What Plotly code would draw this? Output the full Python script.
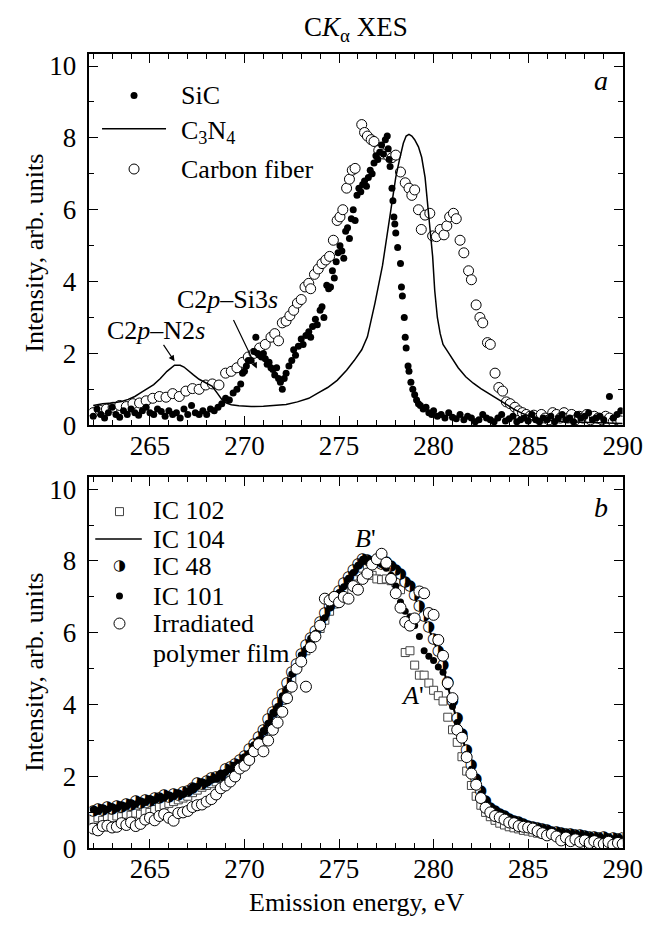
import plotly.graph_objects as go

# ---------------- data: panel a ----------------
SIC_X = [262.0, 262.2, 262.4, 262.6, 262.8, 263.0, 263.2, 263.4, 263.6, 263.8,
         264.0, 264.2, 264.4, 264.6, 264.8, 265.0, 265.2, 265.4, 265.6, 265.8,
         266.0, 266.2, 266.4, 266.6, 266.8, 267.0, 267.2, 267.4, 267.6, 267.8,
         268.0, 268.2, 268.4, 268.6, 268.8, 269.0, 269.2, 269.4, 269.6, 269.8,
         269.9, 270.0, 270.1, 270.2, 270.35, 270.5, 270.6, 270.7, 270.8, 270.9,
         271.0, 271.1, 271.2, 271.3, 271.4, 271.5, 271.6, 271.7, 271.8, 271.9,
         272.0, 272.1, 272.2, 272.35, 272.5, 272.6, 272.7, 272.85, 273.0, 273.1,
         273.25, 273.4, 273.5, 273.6, 273.75, 273.85, 274.0, 274.1, 274.2, 274.35,
         274.45, 274.55, 274.65, 274.75, 274.85, 274.95, 275.05, 275.15, 275.25, 275.35,
         275.45, 275.55, 275.65, 275.75, 275.85, 275.95, 276.05, 276.15, 276.25, 276.35,
         276.45, 276.55, 276.65, 276.75, 276.85, 276.95, 277.05, 277.15, 277.25, 277.35,
         277.45, 277.55, 277.6, 277.65, 277.7, 277.8, 277.85, 277.9, 277.95, 278.0,
         278.1, 278.25, 278.3, 278.35, 278.45, 278.5, 278.55, 278.65, 278.7, 278.8,
         278.9, 279.0, 279.1, 279.2, 279.3, 279.45, 279.6, 279.75, 279.9, 280.0,
         280.2, 280.4, 280.6, 280.8, 281.0, 281.2, 281.4, 281.6, 281.8, 282.0,
         282.2, 282.4, 282.6, 282.8, 283.0, 283.2, 283.4, 283.6, 283.8, 284.0,
         284.2, 284.4, 284.6, 284.8, 285.0, 285.2, 285.4, 285.6, 285.8, 286.0,
         286.2, 286.4, 286.6, 286.8, 287.0, 287.2, 287.4, 287.6, 287.8, 288.0,
         288.2, 288.4, 288.6, 288.8, 289.0, 289.3, 289.5, 289.7, 289.9]
SIC_Y = [0.25, 0.45, 0.30, 0.20, 0.35, 0.50, 0.30, 0.22, 0.40, 0.30,
         0.45, 0.35, 0.28, 0.40, 0.50, 0.35, 0.30, 0.45, 0.38, 0.25,
         0.40, 0.30, 0.35, 0.20, 0.45, 0.30, 0.55, 0.35, 0.30, 0.40,
         0.30, 0.45, 0.40, 0.50, 0.60, 0.75, 0.70, 0.90, 1.00, 1.15,
         1.45, 1.50, 1.65, 1.80, 1.80, 2.05, 2.45, 2.00, 1.95, 1.90,
         2.00, 1.85, 1.70, 1.75, 1.60, 1.55, 1.40, 1.60, 1.30, 1.20,
         1.00, 1.30, 1.45, 1.65, 1.80, 2.10, 1.95, 2.20, 2.40, 2.25,
         2.50, 2.60, 2.45, 2.75, 2.95, 2.80, 3.20, 3.30, 3.00, 3.90,
         3.80, 3.85, 4.30, 4.10, 4.55, 4.80, 5.00, 4.85, 4.65, 5.40,
         5.50, 5.20, 5.75, 6.00, 5.70, 6.40, 6.60, 6.50, 6.70, 6.80,
         6.65, 6.90, 7.10, 7.00, 7.30, 7.50, 7.40, 7.60, 7.80, 7.55,
         7.95, 8.05, 7.70, 7.40, 7.20, 6.60, 6.25, 5.80, 5.60, 5.35,
         4.95, 4.50, 3.85, 3.60, 3.00, 2.45, 2.15, 1.65, 1.50, 1.20,
         1.00, 0.85, 0.70, 0.60, 0.55, 0.45, 0.50, 0.35, 0.30, 0.40,
         0.25, 0.30, 0.20, 0.35, 0.22, 0.18, 0.30, 0.15, 0.25, 0.20,
         0.10, 0.15, 0.30, 0.20, 0.15, 0.10, 0.20, 0.30, 0.12, 0.18,
         0.25, 0.10, 0.15, 0.20, 0.12, 0.30, 0.15, 0.10, 0.20, 0.15,
         0.25, 0.10, 0.20, 0.30, 0.15, 0.20, 0.10, 0.30, 0.20, 0.25,
         0.35, 0.15, 0.20, 0.25, 0.15, 0.80, 0.20, 0.30, 0.40]

CF_X = [262.0, 262.35, 262.7, 263.05, 263.4, 263.75, 264.1, 264.45, 264.8, 265.15,
        265.5, 265.85, 266.2, 266.55, 266.9, 267.25, 267.6, 267.95, 268.3, 268.65,
        269.0, 269.3, 269.6, 269.9, 270.2, 270.5, 270.8, 271.1, 271.4, 271.6,
        271.8, 272.0, 272.2, 272.4, 272.6, 272.8, 273.0, 273.2, 273.4, 273.5,
        273.7, 273.9, 274.1, 274.3, 274.5, 274.7, 274.9, 275.05, 275.2, 275.4,
        275.55, 275.7, 275.85, 276.2, 276.35, 276.5, 276.7, 276.85, 277.1, 277.35,
        277.6, 277.8, 278.0, 278.25, 278.5, 278.7, 278.85, 279.0, 279.2, 279.35,
        279.55, 279.8, 279.95, 280.15, 280.35, 280.55, 280.7, 280.85, 281.05, 281.2,
        281.4, 281.6, 281.85, 282.0, 282.25, 282.45, 282.6, 282.85, 283.0, 283.25,
        283.45, 283.65, 283.85, 284.05, 284.3, 284.5, 284.7, 284.9, 285.1, 285.3,
        285.5, 285.7, 285.9, 286.1, 286.3, 286.5, 286.7, 286.9, 287.1, 287.3,
        287.5, 287.7, 287.9, 288.1, 288.3, 288.5, 288.7, 288.9, 289.1, 289.3,
        289.5, 289.7, 289.9]
CF_Y = [0.35, 0.42, 0.45, 0.50, 0.55, 0.52, 0.60, 0.62, 0.68, 0.75,
        0.80, 0.78, 0.88, 0.80, 0.95, 1.02, 1.00, 1.12, 1.15, 1.12,
        1.45, 1.50, 1.60, 1.75, 1.90, 2.00, 2.15, 2.25, 2.45, 2.55,
        2.35, 2.85, 2.90, 3.05, 3.20, 3.40, 3.50, 3.85, 3.95, 3.80,
        4.20, 4.35, 4.50, 4.60, 4.70, 5.15, 5.70, 5.80, 6.00, 6.60,
        6.85, 7.10, 7.15, 8.37, 8.15, 8.05, 7.95, 7.90, 7.65, 7.55,
        7.50, 7.45, 7.52, 7.05, 6.75, 6.60, 6.40, 6.55, 6.00, 5.45,
        5.85, 5.90, 5.27, 5.25, 5.45, 5.30, 5.55, 5.80, 5.90, 5.75,
        5.15, 4.80, 4.30, 4.05, 3.35, 3.00, 2.85, 2.30, 2.25, 1.45,
        1.05, 0.95, 0.65, 0.60, 0.50, 0.40, 0.35, 0.30, 0.25, 0.28,
        0.20, 0.30, 0.20, 0.15, 0.35, 0.30, 0.20, 0.35, 0.20, 0.30,
        0.15, 0.25, 0.20, 0.30, 0.15, 0.25, 0.20, 0.15, 0.25, 0.20,
        0.10, 0.15, 0.12]

C3N4_X = [262.0, 262.5, 263.0, 263.5, 263.85, 264.2, 264.5, 264.85, 265.2, 265.55,
          265.9, 266.3, 266.6, 266.8, 267.05, 267.3, 267.6, 267.8, 268.05, 268.3,
          268.55, 268.8, 269.05, 269.3, 269.7, 270.35, 271.0, 271.7, 272.2, 272.8,
          273.4, 273.9, 274.4, 274.9, 275.4, 275.8, 276.2, 276.5, 276.9, 277.3,
          277.55, 277.8, 278.0, 278.2, 278.4, 278.55, 278.7, 278.85, 279.0, 279.2,
          279.37, 279.55, 279.7, 279.85, 279.95, 280.06, 280.2, 280.35, 280.5, 280.75,
          281.0, 281.3, 281.7, 282.1, 282.5, 282.8, 283.2, 283.5, 283.9, 284.3,
          284.7, 285.1, 285.6, 286.2, 287.0, 288.0, 289.0, 290.0]
C3N4_Y = [0.55, 0.60, 0.62, 0.66, 0.72, 0.80, 0.90, 1.02, 1.13, 1.30,
          1.50, 1.67, 1.67, 1.62, 1.50, 1.40, 1.28, 1.22, 1.15, 1.08,
          0.90, 0.72, 0.62, 0.57, 0.54, 0.52, 0.53, 0.56, 0.58, 0.65,
          0.75, 0.90, 1.05, 1.25, 1.53, 1.80, 2.10, 2.46, 3.40, 4.45,
          5.30, 6.28, 6.90, 7.40, 7.85, 8.05, 8.10, 8.05, 7.95, 7.75,
          7.46, 6.90, 6.10, 5.30, 4.70, 3.75, 3.00, 2.55, 2.25, 2.05,
          1.85, 1.60, 1.35, 1.17, 1.02, 0.92, 0.78, 0.68, 0.55, 0.43,
          0.33, 0.25, 0.18, 0.13, 0.10, 0.08, 0.06, 0.05]

# ---------------- data: panel b ----------------
XB = [262.0, 262.25, 262.5, 262.75, 263.0, 263.25, 263.5, 263.75,
      264.0, 264.25, 264.5, 264.75, 265.0, 265.25, 265.5, 265.75,
      266.0, 266.25, 266.5, 266.75, 267.0, 267.25, 267.5, 267.75,
      268.0, 268.25, 268.5, 268.75, 269.0, 269.25, 269.5, 269.75,
      270.0, 270.25, 270.5, 270.75, 271.0, 271.25, 271.5, 271.75,
      272.0, 272.25, 272.5, 272.75, 273.0, 273.25, 273.5, 273.75,
      274.0, 274.25, 274.5, 274.75, 275.0, 275.25, 275.5, 275.75,
      276.0, 276.25, 276.5, 276.75, 277.0, 277.25, 277.5, 277.75,
      278.0, 278.25, 278.5, 278.75, 279.0, 279.25, 279.5, 279.75,
      280.0, 280.25, 280.5, 280.75, 281.0, 281.25, 281.5, 281.75,
      282.0, 282.25, 282.5, 282.75, 283.0, 283.25, 283.5, 283.75,
      284.0, 284.25, 284.5, 284.75, 285.0, 285.25, 285.5, 285.75,
      286.0, 286.25, 286.5, 286.75, 287.0, 287.25, 287.5, 287.75,
      288.0, 288.25, 288.5, 288.75, 289.0, 289.25, 289.5, 289.75,
      290.0]

IC102 = [0.80, 0.85, 0.78, 0.88, 0.85, 0.90, 0.88, 0.95,
         0.92, 0.98, 0.95, 1.02, 1.00, 1.08, 1.15, 1.20,
         1.25, 1.30, 1.35, 1.40, 1.45, 1.55, 1.62, 1.70,
         1.75, 1.80, 1.85, 1.95, 2.02, 2.12, 2.20, 2.32,
         2.45, 2.60, 2.78, 2.98, 3.18, 3.42, 3.68, 3.90,
         4.12, 4.40, 4.70, 5.00, 5.25, 5.50, 5.72, 5.92,
         6.12, 6.35, 6.60, 6.80, 7.00, 7.20, 7.40, 7.58,
         7.70, 7.80, 7.82, 7.60, 7.50, 7.48, 7.50, 7.45,
         7.40, 7.20, 5.45, 5.50, 5.10, 4.82, 4.82, 4.60,
         4.40, 4.25, 4.10, 3.65, 3.30, 2.95, 2.55, 2.15,
         1.75, 1.45, 1.20, 1.00, 0.88, 0.78, 0.70, 0.65,
         0.60, 0.57, 0.54, 0.50, 0.48, 0.45, 0.42, 0.40,
         0.38, 0.36, 0.34, 0.33, 0.32, 0.31, 0.30, 0.29,
         0.28, 0.27, 0.27, 0.26, 0.25, 0.25, 0.24, 0.24,
         0.23]

IC48 = [1.02, 1.10, 1.06, 1.14, 1.10, 1.18, 1.15, 1.22,
        1.20, 1.30, 1.26, 1.35, 1.32, 1.40, 1.38, 1.47,
        1.43, 1.50, 1.48, 1.55, 1.60, 1.68, 1.80, 1.78,
        1.88, 1.95, 1.98, 2.02, 2.20, 2.25, 2.35, 2.45,
        2.55, 2.75, 2.90, 3.10, 3.30, 3.58, 3.80, 4.05,
        4.28, 4.60, 4.90, 5.12, 5.40, 5.65, 5.85, 6.05,
        6.28, 6.55, 6.75, 6.98, 7.15, 7.38, 7.55, 7.75,
        7.92, 8.05, 8.02, 7.95, 8.00, 7.92, 7.95, 7.85,
        7.75, 7.62, 7.40, 7.30, 7.05, 6.75, 6.45, 6.15,
        5.82, 5.50, 5.10, 4.62, 4.10, 3.62, 3.18, 2.72,
        2.30, 1.92, 1.60, 1.30, 1.12, 1.02, 0.95, 0.88,
        0.82, 0.76, 0.72, 0.68, 0.62, 0.60, 0.55, 0.52,
        0.50, 0.45, 0.44, 0.42, 0.38, 0.40, 0.36, 0.35,
        0.34, 0.30, 0.32, 0.28, 0.30, 0.26, 0.28, 0.24,
        0.27]

IC101 = [1.08, 1.04, 1.12, 1.08, 1.16, 1.12, 1.20, 1.18,
         1.26, 1.23, 1.31, 1.29, 1.38, 1.35, 1.43, 1.40,
         1.48, 1.45, 1.53, 1.50, 1.58, 1.72, 1.72, 1.84,
         1.82, 1.92, 1.94, 2.10, 2.12, 2.20, 2.32, 2.38,
         2.55, 2.65, 2.88, 3.02, 3.28, 3.48, 3.78, 3.95,
         4.25, 4.45, 4.85, 5.02, 5.38, 5.55, 5.85, 5.98,
         6.25, 6.42, 6.72, 6.88, 7.12, 7.28, 7.52, 7.68,
         7.88, 8.05, 7.98, 8.00, 7.95, 7.90, 7.80, 7.60,
         7.30, 6.86, 6.60, 6.45, 6.20, 5.90, 5.50, 5.35,
         5.23, 5.05, 4.90, 4.50, 3.95, 3.50, 3.05, 2.62,
         2.20, 1.85, 1.52, 1.25, 1.08, 0.98, 0.90, 0.85,
         0.78, 0.74, 0.70, 0.64, 0.60, 0.57, 0.53, 0.50,
         0.46, 0.44, 0.41, 0.39, 0.37, 0.35, 0.34, 0.32,
         0.31, 0.30, 0.29, 0.28, 0.27, 0.26, 0.25, 0.24,
         0.24]

FILM = [0.55, 0.50, 0.62, 0.63, 0.58, 0.60, 0.70, 0.65,
        0.72, 0.62, 0.68, 0.80, 0.85, 0.78, 0.90, 0.95,
        0.85, 0.77, 0.98, 1.00, 1.04, 1.15, 1.20, 1.22,
        1.30, 1.37, 1.50, 1.67, 1.75, 1.86, 2.00, 2.22,
        2.30, 2.46, 2.70, 2.90, 2.70, 3.00, 3.30, 3.50,
        3.80, 4.18, 4.50, 5.00, 5.20, 4.50, 5.60, 5.90,
        6.20, 6.95, 6.90, 7.00, 6.85, 7.00, 6.95, 7.30,
        7.20, 7.50, 7.65, 7.90, 8.05, 8.20, 7.95, 7.50,
        7.10, 6.70, 6.30, 6.20, 6.40, 7.15, 7.10, 6.55,
        6.50, 5.80, 5.36, 4.60, 4.18, 3.30, 3.08, 2.54,
        2.08, 1.77, 1.40, 1.13, 1.00, 0.90, 0.86, 0.80,
        0.72, 0.70, 0.62, 0.60, 0.58, 0.55, 0.48, 0.42,
        0.36, 0.40, 0.33, 0.22, 0.30, 0.20, 0.25, 0.18,
        0.22, 0.15, 0.20, 0.14, 0.12, 0.18, 0.10, 0.15,
        0.12]

IC104_X = [262.0, 262.5, 263.0, 263.5, 264.0, 264.5, 265.0, 265.5, 266.0, 266.5,
           267.0, 267.5, 268.0, 268.5, 269.0, 269.5, 270.0, 270.5, 271.0, 271.5,
           272.0, 272.5, 273.0, 273.5, 274.0, 274.5, 275.0, 275.5, 276.0, 276.5,
           277.0, 277.5, 278.0, 278.5, 279.0, 279.5, 280.0, 280.5, 281.0, 281.5,
           282.0, 282.5, 283.0, 283.5, 284.0, 284.5, 285.0, 285.5, 286.0, 286.5,
           287.0, 287.5, 288.0, 288.5, 289.0, 289.5, 290.0]
IC104_Y = [1.05, 1.10, 1.12, 1.18, 1.22, 1.28, 1.35, 1.40, 1.45, 1.50,
           1.56, 1.74, 1.85, 1.96, 2.14, 2.30, 2.52, 2.85, 3.25, 3.75,
           4.20, 4.80, 5.35, 5.80, 6.20, 6.70, 7.10, 7.50, 7.85, 8.00,
           8.00, 7.90, 7.72, 7.45, 7.00, 6.40, 5.80, 5.05, 4.00, 3.10,
           2.25, 1.55, 1.10, 0.92, 0.80, 0.71, 0.62, 0.55, 0.48, 0.43,
           0.38, 0.35, 0.32, 0.30, 0.28, 0.26, 0.25]

# ---------------- styling ----------------
W, H = 656, 926
SERIF = "Liberation Serif, Times New Roman, serif"
TICK = 27
TXT = 26
HALF = "\u25d1"


def fx(p):
    return p / W


def fy(p):
    return 1 - p / H


X_DOM = [fx(84), fx(634)]
Y1_DOM = [fy(423), fy(45)]
Y2_DOM = [fy(854), fy(476)]

xcommon = dict(range=[261.8, 290], tick0=265, dtick=5, ticks="inside", ticklen=9,
               tickwidth=1.4, tickcolor="black", showline=True, linecolor="black",
               linewidth=1.8, mirror="allticks", showgrid=False, zeroline=False,
               ticklabelstandoff=-5,
               minor=dict(ticks="inside", tick0=262, dtick=1, ticklen=5, tickwidth=1.2,
                          tickcolor="black", showgrid=False),
               tickfont=dict(family=SERIF, size=TICK, color="black"))
ycommon = dict(range=[0, 10.33], tick0=0, dtick=2, ticks="inside", ticklen=9,
               tickwidth=1.4, tickcolor="black", showline=True, linecolor="black",
               linewidth=1.8, mirror="allticks", showgrid=False, zeroline=False,
               ticklabelstandoff=6,
               minor=dict(ticks="inside", tick0=0, dtick=1, ticklen=5, tickwidth=1.2,
                          tickcolor="black", showgrid=False),
               tickfont=dict(family=SERIF, size=TICK, color="black"))

fig = go.Figure()

# panel a
fig.add_trace(go.Scatter(x=CF_X, y=CF_Y, mode="markers", xaxis="x", yaxis="y",
                         marker=dict(symbol="circle", size=10, color="white",
                                     line=dict(color="black", width=1))))
fig.add_trace(go.Scatter(x=SIC_X, y=SIC_Y, mode="markers", xaxis="x", yaxis="y",
                         marker=dict(symbol="circle", size=7, color="black",
                                     line=dict(width=0))))
fig.add_trace(go.Scatter(x=C3N4_X, y=C3N4_Y, mode="lines", xaxis="x", yaxis="y",
                         line=dict(color="black", width=1.5)))

# panel b
fig.add_trace(go.Scatter(x=XB, y=IC102, mode="markers", xaxis="x2", yaxis="y2",
                         marker=dict(symbol="square", size=8, color="white",
                                     line=dict(color="#444", width=1))))
fig.add_trace(go.Scatter(x=IC104_X, y=IC104_Y, mode="lines", xaxis="x2", yaxis="y2",
                         line=dict(color="black", width=2)))
fig.add_trace(go.Scatter(x=XB, y=IC48, mode="markers", xaxis="x2", yaxis="y2",
                         marker=dict(symbol="circle", size=10, color="white",
                                     line=dict(width=0))))
fig.add_trace(go.Scatter(x=XB, y=IC48, mode="text", text=[HALF] * len(XB),
                         textposition="middle center", xaxis="x2", yaxis="y2",
                         textfont=dict(family="DejaVu Sans", size=15, color="black")))
fig.add_trace(go.Scatter(x=XB, y=IC101, mode="markers", xaxis="x2", yaxis="y2",
                         marker=dict(symbol="circle", size=7, color="black",
                                     line=dict(width=0))))
fig.add_trace(go.Scatter(x=XB, y=FILM, mode="markers", xaxis="x2", yaxis="y2",
                         marker=dict(symbol="circle", size=11, color="white",
                                     line=dict(color="black", width=1))))

# legend glyphs on a full-page pixel overlay
fig.add_trace(go.Scatter(x=[130], y=[87], mode="markers", xaxis="x3", yaxis="y3",
                         marker=dict(symbol="circle", size=7, color="black")))
fig.add_trace(go.Scatter(x=[130], y=[162], mode="markers", xaxis="x3", yaxis="y3",
                         marker=dict(symbol="circle", size=10, color="white",
                                     line=dict(color="black", width=1))))
fig.add_trace(go.Scatter(x=[115], y=[511], mode="markers", xaxis="x3", yaxis="y3",
                         marker=dict(symbol="square", size=8, color="white",
                                     line=dict(color="#444", width=1))))
fig.add_trace(go.Scatter(x=[115], y=[567], mode="text", text=[HALF], xaxis="x3", yaxis="y3",
                         textposition="middle center",
                         textfont=dict(family="DejaVu Sans", size=15, color="black")))
fig.add_trace(go.Scatter(x=[115], y=[597], mode="markers", xaxis="x3", yaxis="y3",
                         marker=dict(symbol="circle", size=7, color="black")))
fig.add_trace(go.Scatter(x=[115], y=[625], mode="markers", xaxis="x3", yaxis="y3",
                         marker=dict(symbol="circle", size=11, color="white",
                                     line=dict(color="black", width=1))))

shapes = [
    dict(type="line", xref="paper", yref="paper", x0=fx(97), x1=fx(163), y0=fy(121), y1=fy(121),
         line=dict(color="black", width=1.5)),
    dict(type="line", xref="paper", yref="paper", x0=fx(90), x1=fx(138), y0=fy(539), y1=fy(539),
         line=dict(color="black", width=1.5)),
]


def txt(text, x, y, xanchor="center", size=TXT, angle=0):
    return dict(text=text, x=fx(x), y=fy(y), xref="paper", yref="paper", showarrow=False,
                xanchor=xanchor, yanchor="middle", textangle=angle,
                font=dict(family=SERIF, size=size, color="black"))


annotations = [
    txt("C<i>K</i><sub>\u03b1</sub> XES", 359, 19, size=27),
    txt("<i>a</i>", 612, 72, size=28),
    txt("<i>b</i>", 612, 507, size=28),
    txt("Intensity, arb. units", 27, 248, angle=-90),
    txt("Intensity, arb. units", 27, 675, angle=-90),
    txt("Emission energy, eV", 359, 909),
    txt("C2<i>p</i>\u2013Si3<i>s</i>", 226, 295),
    txt("C2<i>p</i>\u2013N2<i>s</i>", 153, 327),
    txt("<i>B</i>'", 369, 538),
    txt("<i>A</i>'", 417, 698),
    txt("SiC", 176, 87, xanchor="left"),
    txt("C<sub>3</sub>N<sub>4</sub>", 176, 124, xanchor="left"),
    txt("Carbon fiber", 176, 162, xanchor="left"),
    txt("IC 102", 148, 510, xanchor="left"),
    txt("IC 104", 148, 539, xanchor="left"),
    txt("IC 48", 148, 567, xanchor="left"),
    txt("IC 101", 148, 597, xanchor="left"),
    txt("Irradiated", 148, 625, xanchor="left"),
    txt("polymer film", 148, 656, xanchor="left"),
    dict(text="", x=266.3, y=1.78, xref="x", yref="y", showarrow=True, ax=-12, ay=-18,
         arrowhead=2, arrowsize=1, arrowwidth=1.2, arrowcolor="black", standoff=0),
    dict(text="", x=270.65, y=1.58, xref="x", yref="y", showarrow=True, ax=-24, ay=-50,
         arrowhead=2, arrowsize=1, arrowwidth=1.2, arrowcolor="black", standoff=0),
]

fig.update_layout(
    width=W, height=H, margin=dict(l=0, r=0, t=0, b=0),
    paper_bgcolor="white", plot_bgcolor="rgba(0,0,0,0)",
    showlegend=False,
    xaxis=dict(domain=X_DOM, anchor="y", **xcommon),
    yaxis=dict(domain=Y1_DOM, anchor="x", **ycommon),
    xaxis2=dict(domain=X_DOM, anchor="y2", **xcommon),
    yaxis2=dict(domain=Y2_DOM, anchor="x2", **ycommon),
    xaxis3=dict(domain=[0, 1], range=[0, W], visible=False, anchor="y3", fixedrange=True),
    yaxis3=dict(domain=[0, 1], range=[H, 0], visible=False, anchor="x3", fixedrange=True),
    shapes=shapes, annotations=annotations,
)

fig.write_html("out.html")
